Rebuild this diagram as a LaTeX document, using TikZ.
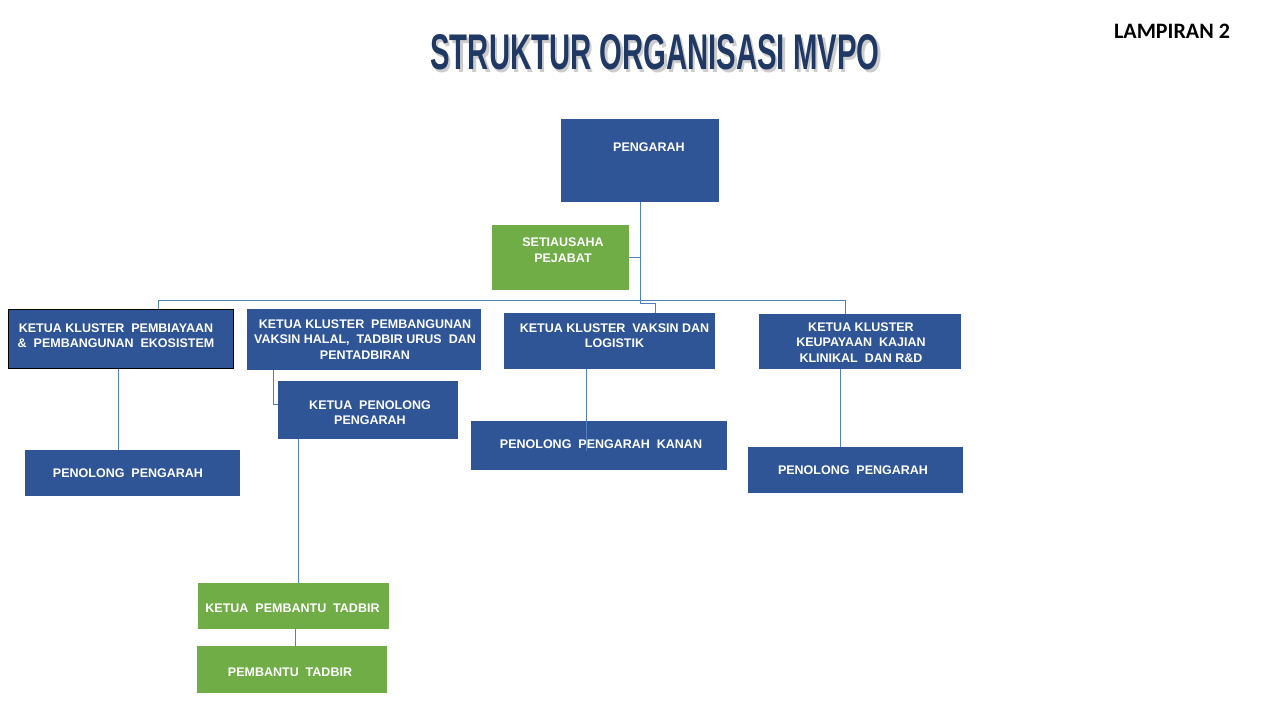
\documentclass[tikz,border=0pt]{standalone}
\usepackage{fontspec}
\setmainfont{Liberation Sans}
\newfontfamily\calib{Carlito}
\usetikzlibrary{calc}
\definecolor{boxblue}{RGB}{47,85,151}
\definecolor{boxgreen}{RGB}{112,173,71}
\definecolor{linkblue}{RGB}{79,129,189}
\definecolor{titlenavy}{RGB}{32,56,100}
\tikzset{
  bbox/.style={fill=boxblue, draw=none, inner sep=0pt},
  gbox/.style={fill=boxgreen, draw=none, inner sep=0pt},
  btext/.style={text=white, font=\fontsize{12.5}{15.5}\selectfont\bfseries, align=center, inner sep=0pt},
  link/.style={draw=linkblue, line width=1pt}
}
\begin{document}
\begin{tikzpicture}[x=1pt,y=-1pt]
\useasboundingbox (0,0) rectangle (1280,720);
% title
\node[inner sep=0pt, text=black, opacity=0.2] (titleshadow) at (657.5,55) {\resizebox{449pt}{35pt}{\bfseries STRUKTUR ORGANISASI MVPO}};
\node[inner sep=0pt, text=titlenavy] (title) at (655,52.5) {\resizebox{449pt}{35pt}{\bfseries STRUKTUR ORGANISASI MVPO}};
\node[inner sep=0pt, font=\calib\fontsize{22}{24}\selectfont\bfseries] (lamp) at (1172,31) {LAMPIRAN 2};
% boxes
\node[bbox, minimum width=158pt, minimum height=83pt] (peng) at (640,160.5) {};
\node[gbox, minimum width=137pt, minimum height=65pt] (set) at (560.5,257.5) {};
\node[bbox, draw=black, line width=1pt, minimum width=225pt, minimum height=59pt] (k1) at (120.5,338.5) {};
\node[bbox, minimum width=215pt, minimum height=46pt] (p1) at (132.5,473) {};
\node[bbox, minimum width=234pt, minimum height=61pt] (k2) at (364,339.5) {};
\node[bbox, minimum width=180pt, minimum height=58pt] (kpp) at (368,410) {};
\node[gbox, minimum width=191pt, minimum height=46pt] (kpt) at (293.5,606) {};
\node[gbox, minimum width=190pt, minimum height=47pt] (pt) at (292,669.5) {};
\node[bbox, minimum width=211pt, minimum height=56pt] (k3) at (609.5,341) {};
\node[bbox, minimum width=256pt, minimum height=49pt] (p3) at (599,445.5) {};
\node[bbox, minimum width=202pt, minimum height=55pt] (k4) at (860,341.5) {};
\node[bbox, minimum width=215pt, minimum height=46pt] (p4) at (855.5,470) {};
% texts
\node[btext] (tpeng) at (649,147) {PENGARAH};
\node[btext] (tset) at (563,250) {SETIAUSAHA\\PEJABAT};
\node[btext] (tk1) at (116,335.5) {KETUA KLUSTER\ \ PEMBIAYAAN\\\&\ \ PEMBANGUNAN\ \ EKOSISTEM};
\node[btext] (tp1) at (128,473) {PENOLONG\ \ PENGARAH};
\node[btext] (tk2) at (365,339.5) {KETUA KLUSTER\ \ PEMBANGUNAN\\VAKSIN HALAL,\ \ TADBIR URUS\ \ DAN\\PENTADBIRAN};
\node[btext] (tkpp) at (370,412.5) {KETUA\ \ PENOLONG\\PENGARAH};
\node[btext] (tkpt) at (292.5,608) {KETUA\ \ PEMBANTU\ \ TADBIR};
\node[btext] (tpt) at (290,672) {PEMBANTU\ \ TADBIR};
\node[btext] (tk3) at (614.5,335.5) {KETUA KLUSTER\ \ VAKSIN DAN\\LOGISTIK};
\node[btext] (tp3) at (601,444) {PENOLONG\ \ PENGARAH\ \ KANAN};
\node[btext] (tk4) at (861,342.5) {KETUA KLUSTER\\KEUPAYAAN\ \ KAJIAN\\KLINIKAL\ \ DAN R\&D};
\node[btext] (tp4) at (853,470) {PENOLONG\ \ PENGARAH};
% connectors
\coordinate (j) at (640,303);
\coordinate (d3) at (655,313);
\coordinate (b1) at (158,309);
\coordinate (b4) at (845,314);
\draw[link] (peng.south) -- (j) -- (j -| d3) -- (d3);
\draw[link] (set.east) -- (set.east -| peng.south);
\draw[link] (b1) -- (b1 |- 0,300) -| (b4);
\draw[link] ([xshift=-2.5pt]k1.south) -- ([xshift=-2.5pt]k1.south |- p1.north);
\draw[link] ([xshift=-91pt]k2.south) |- ([yshift=5.5pt]kpp.west);
\draw[link] ([xshift=-70pt]kpp.south) -- ([xshift=-70pt]kpp.south |- kpt.north);
\draw[link] ([xshift=1.5pt]kpt.south) -- ([xshift=1.5pt]kpt.south |- pt.north);
\draw[link] ([xshift=-23.5pt]k3.south) -- ([xshift=-23.5pt,yshift=-5.5pt]k3.south |- p3.center);
\draw[link] ([xshift=-20pt]k4.south) -- ([xshift=-20pt]k4.south |- p4.north);
\end{tikzpicture}
\end{document}
